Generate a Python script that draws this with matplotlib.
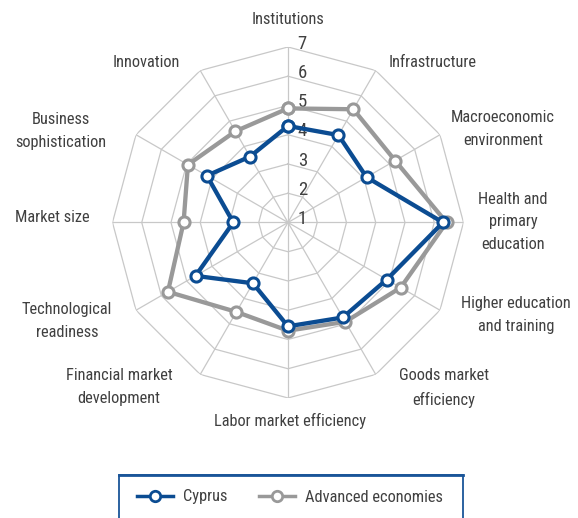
import numpy as np
import matplotlib
matplotlib.use("Agg")
import matplotlib.pyplot as plt
from matplotlib.lines import Line2D
from matplotlib.patches import Rectangle

categories = ["Institutions", "Infrastructure", "Macroeconomic\nenvironment",
              "Health and\nprimary\neducation", "Higher education\nand training",
              "Goods market\nefficiency", "Labor market efficiency",
              "Financial market\ndevelopment", "Technological\nreadiness",
              "Market size", "Business\nsophistication", "Innovation"]
cyprus = [4.3, 4.45, 4.1, 6.3, 4.9, 4.75, 4.55, 3.4, 4.65, 2.87, 4.2, 3.6]
advanced = [4.9, 5.47, 5.23, 6.42, 5.45, 4.92, 4.7, 4.53, 5.74, 4.57, 4.95, 4.6]
levels = [1, 2, 3, 4, 5, 6, 7]
series_names = ["Cyprus", "Advanced economies"]

# style
BLUE = "#0b4c92"
GRAY = "#999999"
GRID = "#c8c8c8"
TXT = "#404040"
FONT = ["Liberation Sans Narrow", "Roboto Condensed", "Open Sans Condensed",
        "Roboto", "DejaVu Sans"]
plt.rcParams["font.family"] = FONT
FS = 11.8

# label offsets from outer vertex (pixels, layout only)
label_offsets = [(0, 27), (57, 7.5), (63, 5.75), (49.5, 0.5), (76, -4.75),
                 (68, -13.5), (2, -23), (-81, -12.5), (-69, -10.75),
                 (-60.5, 4.5), (-75, 3.75), (-54, 7.5)]

fig = plt.figure(figsize=(5.78, 5.18), dpi=100)
ax = fig.add_axes([0.1946, 0.2317, 0.6073, 0.6776], projection="polar")
ax.set_theta_zero_location("N")
ax.set_theta_direction(-1)
ax.set_ylim(1, 7)
ax.grid(False)
ax.spines["polar"].set_visible(False)
ax.set_xticks([])
ax.set_yticks([])
ax.patch.set_visible(False)

n = len(categories)
theta = np.arange(n) * 2 * np.pi / n
theta_c = np.append(theta, theta[0])

for lv in levels[1:]:
    ax.plot(theta_c, [lv] * (n + 1), color=GRID, lw=0.9, zorder=1)
for t in theta:
    ax.plot([t, t], [levels[0], levels[-1]], color=GRID, lw=0.9, zorder=1)

for lv in levels:
    ax.annotate(str(lv), xy=(0, lv), xytext=(7, 2.5), textcoords="offset points",
                ha="left", va="center", fontsize=13.5, color=TXT, zorder=2)

for vals, col in [(advanced, GRAY), (cyprus, BLUE)]:
    ax.plot(theta_c, vals + vals[:1], color=col, lw=3.1, marker="o", ms=8,
            mfc="white", mec=col, mew=2.2, zorder=3, clip_on=False)

for t, lab, off in zip(theta, categories, label_offsets):
    ax.annotate(lab, xy=(t, levels[-1]), xytext=off, textcoords="offset pixels",
                ha="center", va="center", fontsize=FS, color=TXT,
                linespacing=1.65, annotation_clip=False)

# legend box
W, H = 578, 518
box = Rectangle((119 / W, -0.05), (463 - 119) / W, (518 - 475) / H + 0.05,
                transform=fig.transFigure, fill=False, edgecolor="#1a5599",
                lw=1.3, clip_on=False)
fig.add_artist(box)
fig.add_artist(Line2D([119 / W, 463 / W], [(518 - 475) / H] * 2,
                      transform=fig.transFigure, color="#1a5599", lw=2))

handles = [Line2D([], [], color=BLUE, lw=2.5, marker="o", ms=7.5, mfc="white",
                  mec=BLUE, mew=2),
           Line2D([], [], color=GRAY, lw=2.5, marker="o", ms=7.5, mfc="white",
                  mec=GRAY, mew=2)]
leg = fig.legend(handles, series_names, loc="center", ncol=2,
                 bbox_to_anchor=(290 / W, (518 - 497) / H), frameon=False,
                 fontsize=FS, handlelength=2.2, columnspacing=1.9,
                 handletextpad=0.6)
for t in leg.get_texts():
    t.set_color(TXT)

fig.savefig("out.png", dpi=100)
